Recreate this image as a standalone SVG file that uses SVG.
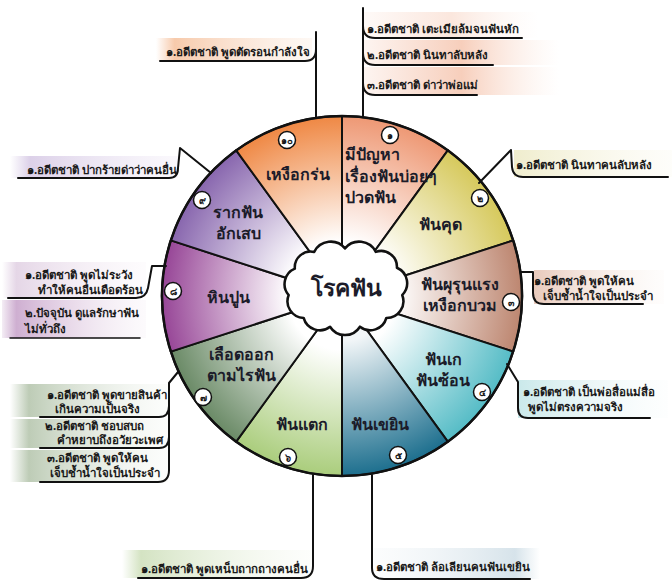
<svg xmlns="http://www.w3.org/2000/svg" width="672" height="587" viewBox="0 0 672 587">
<defs>
<style>
.ln{fill:none;stroke:#111;stroke-width:2;stroke-linecap:round;stroke-linejoin:round}
.seg{stroke:#111;stroke-width:2;stroke-linejoin:round}
.lbl{font-family:"Noto Sans","DejaVu Sans",sans-serif;font-weight:bold;font-size:16px;fill:#1c1c2a}
.ct{font-family:"Noto Sans","DejaVu Sans",sans-serif;font-weight:bold;font-size:11.5px;fill:#1a1a1a}
.num{font-family:"Noto Sans","DejaVu Sans",sans-serif;font-weight:bold;font-size:9.5px;fill:#1a1a1a;text-anchor:middle}
.nc{fill:#fff;stroke:#111;stroke-width:1.5}
.mid{text-anchor:middle}
</style>
<radialGradient id="g1" gradientUnits="userSpaceOnUse" cx="342" cy="296" r="180"><stop offset="0.3" stop-color="#fff"/><stop offset="1" stop-color="#ee9874"/></radialGradient>
<radialGradient id="g2" gradientUnits="userSpaceOnUse" cx="342" cy="296" r="180"><stop offset="0.3" stop-color="#fff"/><stop offset="1" stop-color="#d6c95c"/></radialGradient>
<radialGradient id="g3" gradientUnits="userSpaceOnUse" cx="342" cy="296" r="180"><stop offset="0.3" stop-color="#fff"/><stop offset="1" stop-color="#bd8670"/></radialGradient>
<radialGradient id="g4" gradientUnits="userSpaceOnUse" cx="342" cy="296" r="180"><stop offset="0.3" stop-color="#fff"/><stop offset="1" stop-color="#55bcc6"/></radialGradient>
<radialGradient id="g5" gradientUnits="userSpaceOnUse" cx="342" cy="296" r="180"><stop offset="0.25" stop-color="#f2f6f8"/><stop offset="1" stop-color="#1d6f8e"/></radialGradient>
<radialGradient id="g6" gradientUnits="userSpaceOnUse" cx="342" cy="296" r="180"><stop offset="0.3" stop-color="#fff"/><stop offset="1" stop-color="#aacd7c"/></radialGradient>
<radialGradient id="g7" gradientUnits="userSpaceOnUse" cx="342" cy="296" r="180"><stop offset="0.3" stop-color="#fff"/><stop offset="1" stop-color="#6a8a66"/></radialGradient>
<radialGradient id="g8" gradientUnits="userSpaceOnUse" cx="342" cy="296" r="180"><stop offset="0.3" stop-color="#fff"/><stop offset="1" stop-color="#974697"/></radialGradient>
<radialGradient id="g9" gradientUnits="userSpaceOnUse" cx="342" cy="296" r="180"><stop offset="0.3" stop-color="#fff"/><stop offset="1" stop-color="#8866ae"/></radialGradient>
<radialGradient id="g10" gradientUnits="userSpaceOnUse" cx="342" cy="296" r="180"><stop offset="0.3" stop-color="#fff"/><stop offset="1" stop-color="#ef8844"/></radialGradient>
<linearGradient id="bOr" x1="0" x2="1" y1="0" y2="0"><stop offset="0" stop-color="#f6c4a2" stop-opacity="0"/><stop offset="0.12" stop-color="#f6c4a2" stop-opacity="0.9"/><stop offset="1" stop-color="#fbe8da" stop-opacity="0.3"/></linearGradient>
<linearGradient id="bSa" x1="0" x2="1" y1="0" y2="0"><stop offset="0" stop-color="#f6cbb8" stop-opacity="0.2"/><stop offset="0.5" stop-color="#f6c9b4" stop-opacity="0.9"/><stop offset="1" stop-color="#fbe6dc" stop-opacity="0"/></linearGradient>
<linearGradient id="bLa" x1="0" x2="1" y1="0" y2="0"><stop offset="0" stop-color="#d8cbe6" stop-opacity="0"/><stop offset="0.12" stop-color="#d8cbe6" stop-opacity="0.9"/><stop offset="1" stop-color="#f3eef8" stop-opacity="0.4"/></linearGradient>
<linearGradient id="bYe" x1="0" x2="1" y1="0" y2="0"><stop offset="0" stop-color="#eeebc8" stop-opacity="0.9"/><stop offset="1" stop-color="#f8f6e6" stop-opacity="0.2"/></linearGradient>
<linearGradient id="bBr" x1="0" x2="1" y1="0" y2="0"><stop offset="0" stop-color="#e6c4b4" stop-opacity="0.9"/><stop offset="1" stop-color="#f8ece6" stop-opacity="0.1"/></linearGradient>
<linearGradient id="bTe" x1="0" x2="1" y1="0" y2="0"><stop offset="0" stop-color="#c4e6e8" stop-opacity="0.9"/><stop offset="1" stop-color="#eef8f8" stop-opacity="0.1"/></linearGradient>
<linearGradient id="bPu" x1="0" x2="1" y1="0" y2="0"><stop offset="0" stop-color="#e2d2e4" stop-opacity="0"/><stop offset="0.1" stop-color="#e2d2e4" stop-opacity="0.9"/><stop offset="1" stop-color="#f6eff6" stop-opacity="0.2"/></linearGradient>
<linearGradient id="bPu2" x1="0" x2="1" y1="0" y2="0"><stop offset="0" stop-color="#c9a6cc" stop-opacity="0.2"/><stop offset="0.1" stop-color="#c9a6cc" stop-opacity="0.9"/><stop offset="1" stop-color="#f2e8f2" stop-opacity="0.2"/></linearGradient>
<linearGradient id="bGr" x1="0" x2="1" y1="0" y2="0"><stop offset="0" stop-color="#b6c6ae" stop-opacity="0"/><stop offset="0.12" stop-color="#b6c6ae" stop-opacity="0.9"/><stop offset="1" stop-color="#f0f4ee" stop-opacity="0.2"/></linearGradient>
<linearGradient id="bLg" x1="0" x2="1" y1="0" y2="0"><stop offset="0" stop-color="#cfe0bc" stop-opacity="0"/><stop offset="0.1" stop-color="#cfe0bc" stop-opacity="0.9"/><stop offset="1" stop-color="#f4f8ee" stop-opacity="0.2"/></linearGradient>
<linearGradient id="bBl" x1="0" x2="1" y1="0" y2="0"><stop offset="0" stop-color="#eef3f6" stop-opacity="0.2"/><stop offset="0.85" stop-color="#d2e0e8" stop-opacity="0.9"/><stop offset="1" stop-color="#d2e0e8" stop-opacity="0"/></linearGradient>
</defs>
<rect width="672" height="587" fill="#fff"/>

<g id="callout-bg">
<rect x="156" y="38" width="156" height="23" fill="url(#bOr)"/>
<rect x="364" y="12" width="175" height="26" fill="url(#bSa)" opacity="0.5"/>
<rect x="364" y="40" width="195" height="25" fill="url(#bSa)"/>
<rect x="364" y="67" width="195" height="28" fill="url(#bSa)"/>
<rect x="10" y="156" width="168" height="22" fill="url(#bLa)"/>
<rect x="514" y="150" width="158" height="27" fill="url(#bYe)"/>
<rect x="534" y="270" width="130" height="34" fill="url(#bBr)"/>
<rect x="2" y="262" width="144" height="36" fill="url(#bPu)"/>
<rect x="2" y="300" width="144" height="38" fill="url(#bPu2)"/>
<rect x="518" y="380" width="150" height="38" fill="url(#bTe)"/>
<rect x="10" y="384" width="158" height="33" fill="url(#bGr)"/>
<rect x="10" y="419" width="158" height="29" fill="url(#bGr)"/>
<rect x="10" y="450" width="158" height="32" fill="url(#bGr)"/>
<rect x="122" y="550" width="190" height="28" fill="url(#bLg)"/>
<rect x="374" y="548" width="166" height="31" fill="url(#bBl)"/>
</g>

<g id="wheel">
<g id="seg1"><path class="seg" fill="url(#g1)" d="M342,296 L342,116 A180,180 0 0 1 447.8,150.4 Z"/></g>
<g id="seg2"><path class="seg" fill="url(#g2)" d="M342,296 L447.8,150.4 A180,180 0 0 1 513.2,240.4 Z"/></g>
<g id="seg3"><path class="seg" fill="url(#g3)" d="M342,296 L513.2,240.4 A180,180 0 0 1 513.2,351.6 Z"/></g>
<g id="seg4"><path class="seg" fill="url(#g4)" d="M342,296 L513.2,351.6 A180,180 0 0 1 447.8,441.6 Z"/></g>
<g id="seg5"><path class="seg" fill="url(#g5)" d="M342,296 L447.8,441.6 A180,180 0 0 1 342,476 Z"/></g>
<g id="seg6"><path class="seg" fill="url(#g6)" d="M342,296 L342,476 A180,180 0 0 1 236.2,441.6 Z"/></g>
<g id="seg7"><path class="seg" fill="url(#g7)" d="M342,296 L236.2,441.6 A180,180 0 0 1 170.8,351.6 Z"/></g>
<g id="seg8"><path class="seg" fill="url(#g8)" d="M342,296 L170.8,351.6 A180,180 0 0 1 170.8,240.4 Z"/></g>
<g id="seg9"><path class="seg" fill="url(#g9)" d="M342,296 L170.8,240.4 A180,180 0 0 1 236.2,150.4 Z"/></g>
<g id="seg10"><path class="seg" fill="url(#g10)" d="M342,296 L236.2,150.4 A180,180 0 0 1 342,116 Z"/></g>
<circle cx="342" cy="296" r="180" fill="none" stroke="#111" stroke-width="2.5"/>
</g>

<g id="labels" class="lbl">
<text x="345" y="160">มีปัญหา</text>
<text x="345" y="182">เรื่องฟันบ่อยๆ</text>
<text x="345" y="203">ปวดฟัน</text>
<text class="mid" x="440" y="230">ฟันคุด</text>
<text class="mid" x="460" y="290">ฟันผุรุนแรง</text>
<text class="mid" x="460" y="311">เหงือกบวม</text>
<text class="mid" x="443" y="365">ฟันเก</text>
<text class="mid" x="443" y="386">ฟันซ้อน</text>
<text class="mid" x="380" y="430">ฟันเขยิน</text>
<text class="mid" x="302" y="430">ฟันแตก</text>
<text class="mid" x="241" y="360">เลือดออก</text>
<text class="mid" x="241" y="381">ตามไรฟัน</text>
<text class="mid" x="228" y="303">หินปูน</text>
<text class="mid" x="238" y="218">รากฟัน</text>
<text class="mid" x="238" y="239">อักเสบ</text>
<text class="mid" x="298" y="180">เหงือกร่น</text>
</g>

<g id="badges">
<g id="b1"><circle class="nc" cx="390" cy="135" r="8.5"/><text class="num" x="390" y="139">๑</text></g>
<g id="b2"><circle class="nc" cx="480" cy="198" r="8.5"/><text class="num" x="480" y="202">๒</text></g>
<g id="b3"><circle class="nc" cx="511" cy="302" r="8.5"/><text class="num" x="511" y="306">๓</text></g>
<g id="b4"><circle class="nc" cx="482" cy="392" r="8.5"/><text class="num" x="482" y="396">๔</text></g>
<g id="b5"><circle class="nc" cx="398" cy="455" r="8.5"/><text class="num" x="398" y="459">๕</text></g>
<g id="b6"><circle class="nc" cx="288" cy="457" r="8.5"/><text class="num" x="288" y="461">๖</text></g>
<g id="b7"><circle class="nc" cx="203" cy="397" r="8.5"/><text class="num" x="203" y="401">๗</text></g>
<g id="b8"><circle class="nc" cx="173" cy="291" r="8.5"/><text class="num" x="173" y="295">๘</text></g>
<g id="b9"><circle class="nc" cx="202" cy="200" r="8.5"/><text class="num" x="202" y="204">๙</text></g>
<g id="b10"><circle class="nc" cx="287" cy="140" r="8.5"/><text class="num" x="287" y="144">๑๐</text></g>
</g>

<g id="center">
<path transform="translate(345,288) scale(0.88) translate(-345,-288)" d="M288,266 A18,18 0 0 1 310,247 A21,21 0 0 1 345,243 A21,21 0 0 1 380,247 A18,18 0 0 1 404,265 A19,19 0 0 1 410,296 A19,19 0 0 1 392,322 A19,19 0 0 1 362,332 A20,20 0 0 1 328,332 A19,19 0 0 1 298,322 A19,19 0 0 1 281,296 A19,19 0 0 1 288,266 Z" fill="#fff" stroke="#111" stroke-width="2.9" stroke-linejoin="round"/>
<text x="346" y="296" text-anchor="middle" style="font-family:'Noto Sans','DejaVu Sans',sans-serif;font-weight:bold;font-size:23px;fill:#1c1c2a">โรคฟัน</text>
</g>

<g id="connectors" class="ln">
<path d="M316,32 L316,118"/>
<path d="M160,61 L305,61 Q316,61 316,49"/>
<path d="M363,8 L363,117"/>
<path d="M363,26 Q363,38 375,38 L522,38"/>
<path d="M363,53 Q363,65 375,65 L493,65"/>
<path d="M363,83 Q363,95 375,95 L477,95"/>
<path d="M18,178 L169,178 Q178,178 178,168 L180,148 L211,173"/>
<path d="M479,183 L511,150 L512,167 Q513,177 523,177 L668,177"/>
<path d="M521,272 L533,272 L533,293 Q533,304 544,304 L643,304"/>
<path d="M507,364 L518,382 L518,408 Q518,418 528,418 L650,418"/>
<path d="M166,266 L152,266 L148,288 Q146,298 136,298 L8,298"/>
<path d="M10,338 L140,338" stroke-width="1.5"/>
<path d="M178,372 L169,383 L169,470"/>
<path d="M40,417 L159,417 Q169,417 169,406"/>
<path d="M40,448 L159,448 Q169,448 169,437"/>
<path d="M40,482 L158,482 Q169,482 169,470"/>
<path d="M313,475 L313,566 Q313,578 301,578 L138,578"/>
<path d="M372,475 L372,568 Q372,579 384,579 L530,579"/>
</g>

<g id="callout10" class="ct"><text x="166" y="56">๑.อดีตชาติ พูดตัดรอนกำลังใจ</text></g>
<g id="callout1" class="ct">
<text x="367" y="33">๑.อดีตชาติ เตะเมียล้มจนฟันหัก</text>
<text x="367" y="59">๒.อดีตชาติ นินทาลับหลัง</text>
<text x="367" y="89">๓.อดีตชาติ ด่าว่าพ่อแม่</text>
</g>
<g id="callout9" class="ct"><text x="27" y="174">๑.อดีตชาติ ปากร้ายด่าว่าคนอื่น</text></g>
<g id="callout2" class="ct"><text x="516" y="169">๑.อดีตชาติ นินทาคนลับหลัง</text></g>
<g id="callout3" class="ct">
<text x="534" y="285">๑.อดีตชาติ พูดให้คน</text>
<text x="543" y="300">เจ็บช้ำน้ำใจเป็นประจำ</text>
</g>
<g id="callout4" class="ct">
<text x="523" y="396">๑.อดีตชาติ เป็นพ่อสื่อแม่สื่อ</text>
<text x="528" y="411">พูดไม่ตรงความจริง</text>
</g>
<g id="callout8" class="ct">
<text x="25" y="279">๑.อดีตชาติ พูดไม่ระวัง</text>
<text x="38" y="294">ทำให้คนอื่นเดือดร้อน</text>
<text x="25" y="317">๒.ปัจจุบัน ดูแลรักษาฟัน</text>
<text x="25" y="333">ไม่ทั่วถึง</text>
</g>
<g id="callout7" class="ct">
<text x="47" y="399">๑.อดีตชาติ พูดขายสินค้า</text>
<text x="55" y="413">เกินความเป็นจริง</text>
<text x="45" y="430">๒.อดีตชาติ ชอบสบถ</text>
<text x="57" y="444">คำหยาบถึงอวัยวะเพศ</text>
<text x="47" y="462">๓.อดีตชาติ พูดให้คน</text>
<text x="50" y="477">เจ็บช้ำน้ำใจเป็นประจำ</text>
</g>
<g id="callout6" class="ct"><text x="141" y="573">๑.อดีตชาติ พูดเหน็บถากถางคนอื่น</text></g>
<g id="callout5" class="ct"><text x="376" y="571">๑.อดีตชาติ ล้อเลียนคนฟันเขยิน</text></g>
</svg>
